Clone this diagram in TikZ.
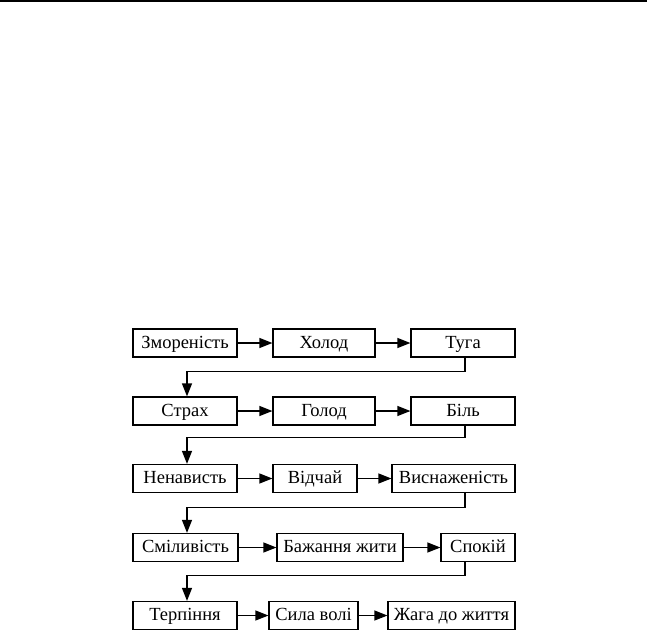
\documentclass[tikz,border=0pt]{standalone}
\usepackage{fontspec}
\setmainfont{Liberation Serif}
\usetikzlibrary{arrows.meta}

\begin{document}
\begin{tikzpicture}[x=1pt,y=-1pt,
	box/.style={draw,line width=1.2pt,inner sep=0pt,minimum height=28pt,
		text height=13pt,text depth=3pt,font=\fontsize{18.5}{22}\selectfont},
	arr/.style={line width=1.2pt,-{Triangle[length=13pt,width=10pt]}}]
	\useasboundingbox (0,0) rectangle (647,630);
	\draw [line width=1.6pt] (0,1) -- (647,1);
	\begin{scope}[every node/.style={box}]
	\node [minimum width=104pt] (zm) at (185,343) {Змореність};
	\node [minimum width=102pt] (hl) at (324,343) {Холод};
	\node [minimum width=104pt] (tg) at (463,343) {Туга};
	\node [minimum width=104pt] (st) at (185,411) {Страх};
	\node [minimum width=102pt] (gl) at (324,411) {Голод};
	\node [minimum width=104pt] (bl) at (463,411) {Біль};
	\node [minimum width=104pt] (nn) at (185,478.5) {Ненависть};
	\node [minimum width=84pt] (vd) at (315,478.5) {Відчай};
	\node [minimum width=123pt] (vs) at (453.5,478.5) {Виснаженість};
	\node [minimum width=105pt] (sm) at (185.5,547.5) {Сміливість};
	\node [minimum width=126pt] (bz) at (340,547.5) {Бажання жити};
	\node [minimum width=74pt] (sp) at (478,547.5) {Спокій};
	\node [minimum width=104pt] (tr) at (185,615.5) {Терпіння};
	\node [minimum width=89pt] (sv) at (313.5,615.5) {Сила волі};
	\node [minimum width=127pt] (zh) at (451.5,615.5) {Жага до життя};
	\end{scope}
	\coordinate (drop) at (465,0);
	\coordinate (land) at (187,0);
	\draw [arr] (zm) edge (hl);
	\draw [arr] (hl) edge (tg);
	\draw [arr] (st) edge (gl);
	\draw [arr] (gl) edge (bl);
	\draw [arr] (nn) edge (vd);
	\draw [arr] (vd) edge (vs);
	\draw [arr] (sm) edge (bz);
	\draw [arr] (bz) edge (sp);
	\draw [arr] (tr) edge (sv);
	\draw [arr] (sv) edge (zh);
	\draw [arr] (tg.south -| drop) -- ++(0,14) -| (st.north -| land);
	\draw [arr] (bl.south -| drop) -- ++(0,12) -| (nn.north -| land);
	\draw [arr] (vs.south -| drop) -- ++(0,14) -| (sm.north -| land);
	\draw [arr] (sp.south -| drop) -- ++(0,13) -| (tr.north -| land);
\end{tikzpicture}
\end{document}
